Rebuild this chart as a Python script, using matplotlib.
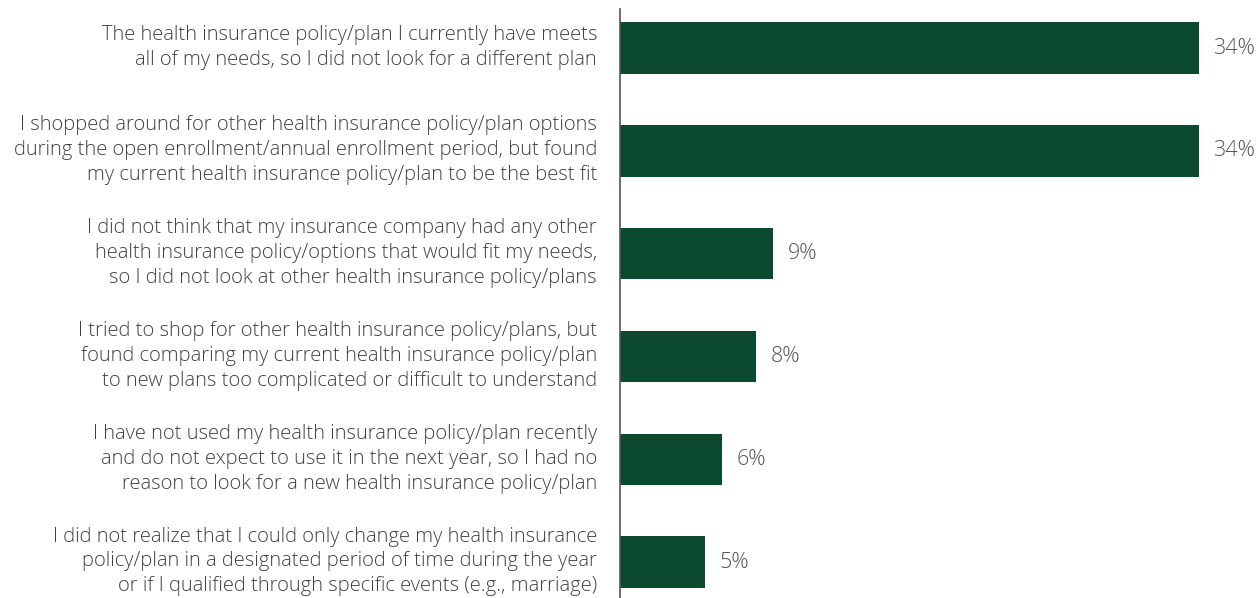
import matplotlib
matplotlib.use("Agg")
import matplotlib.pyplot as plt
from matplotlib.transforms import ScaledTranslation

categories = [
    "The health insurance policy/plan I currently have meets\nall of my needs, so I did not look for a different plan",
    "I shopped around for other health insurance policy/plan options\nduring the open enrollment/annual enrollment period, but found\nmy current health insurance policy/plan to be the best fit",
    "I did not think that my insurance company had any other\nhealth insurance policy/options that would fit my needs,\nso I did not look at other health insurance policy/plans",
    "I tried to shop for other health insurance policy/plans, but\nfound comparing my current health insurance policy/plan\nto new plans too complicated or difficult to understand",
    "I have not used my health insurance policy/plan recently\nand do not expect to use it in the next year, so I had no\nreason to look for a new health insurance policy/plan",
    "I did not realize that I could only change my health insurance\npolicy/plan in a designated period of time during the year\nor if I qualified through specific events (e.g., marriage)",
]
values = [34, 34, 9, 8, 6, 5]

BAR_COLOR = "#0b4a2e"
TEXT_COLOR = "#404040"

plt.rcParams["font.family"] = ["Open Sans", "DejaVu Sans"]

fig = plt.figure(figsize=(12.58, 5.98), dpi=100)
W, H = 1258, 598
ax = fig.add_axes([620 / W, 0, (W - 620) / W, (598 - 9) / H])

pos = list(range(len(values)))
ax.barh(pos, values, height=0.5, color=BAR_COLOR)
ax.set_xlim(0, 34 * (W - 620) / 579)
ax.set_ylim(5.35, -0.38)

for p, v in zip(pos, values):
    ax.text(v + 0.85, p, f"{v}%", va="center", ha="left",
            fontsize=15.5, color="#555555", fontweight="light")

ax.set_yticks(pos)
ax.set_yticklabels(categories, fontsize=14.5, color=TEXT_COLOR,
                   fontweight="light", linespacing=1.33)
ax.tick_params(axis="y", length=0, pad=16.5)
ax.set_xticks([])

# nudge the multi-line labels up so they sit centred on the bars
nudge = ScaledTranslation(0, 0.055, fig.dpi_scale_trans)
for lbl in ax.get_yticklabels():
    lbl.set_transform(lbl.get_transform() + nudge)

for s in ["top", "right", "bottom"]:
    ax.spines[s].set_visible(False)
ax.spines["left"].set_color("#555555")
ax.spines["left"].set_linewidth(1.2)

fig.savefig("out.png", dpi=100)
